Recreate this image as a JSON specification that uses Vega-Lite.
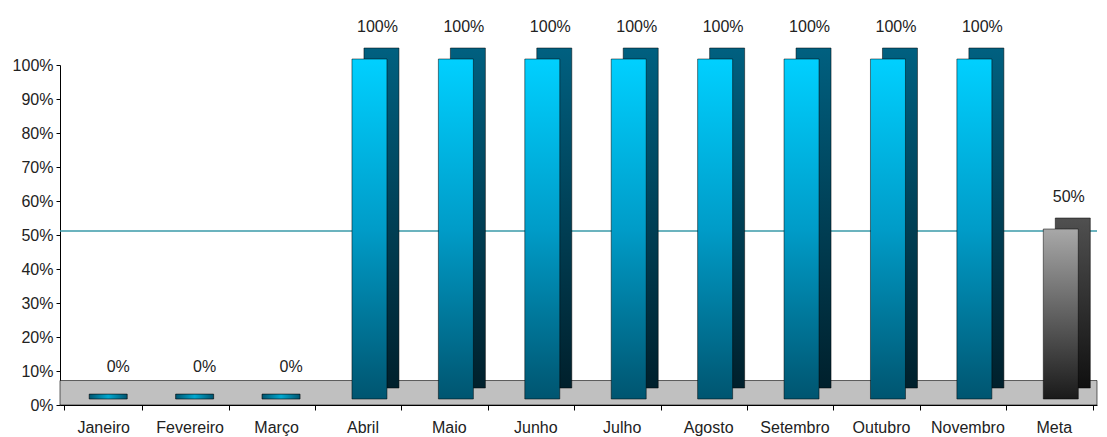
{
  "$schema": "https://vega.github.io/schema/vega-lite/v6.json",
  "autosize": "none",
  "width": 1037,
  "height": 340,
  "padding": {"left": 60, "top": 65, "right": 10, "bottom": 32},
  "background": "white",
  "config": {
    "view": {"stroke": null},
    "font": "Liberation Sans",
    "numberFormat": ".0%",
    "axis": {"grid": false, "labelFontSize": 16, "labelColor": "#222", "labelFont": "Liberation Sans", "domainColor": "#000", "tickColor": "#000"},
    "axisX": {"labelAngle": 0, "tickSize": 5, "tickBand": "extent", "labelPadding": 9},
    "axisY": {"tickCount": 10, "tickSize": 4, "labelPadding": 3}
  },
  "data": {"values": [
    {"mes": "Janeiro", "valor": 0},
    {"mes": "Fevereiro", "valor": 0},
    {"mes": "Março", "valor": 0},
    {"mes": "Abril", "valor": 1},
    {"mes": "Maio", "valor": 1},
    {"mes": "Junho", "valor": 1},
    {"mes": "Julho", "valor": 1},
    {"mes": "Agosto", "valor": 1},
    {"mes": "Setembro", "valor": 1},
    {"mes": "Outubro", "valor": 1},
    {"mes": "Novembro", "valor": 1},
    {"mes": "Meta", "valor": 0.5}
  ]},
  "layer": [
    {
      "data": {"values": [{}]},
      "mark": {"type": "rect", "color": "#C0C0C0", "stroke": "#000", "strokeWidth": 0.6},
      "encoding": {
        "y": {"datum": 0, "type": "quantitative", "title": null, "scale": {"domain": [0, 1]}},
        "y2": {"datum": 0.072}
      }
    },
    {
      "data": {"values": [{}]},
      "mark": {"type": "rule", "color": "#3A9AA8", "strokeWidth": 1.5, "yOffset": -4},
      "encoding": {"y": {"datum": 0.5, "type": "quantitative", "title": null}}
    },
    {
      "transform": [{"filter": "datum.valor == 0"}],
      "mark": {"type": "bar", "width": 38, "xOffset": 5, "yOffset": -6, "stroke": "#000", "strokeWidth": 0.6,
        "color": {"gradient": "linear", "x1": 0, "y1": 0, "x2": 1, "y2": 0,
          "stops": [{"offset": 0, "color": "#005570"}, {"offset": 0.5, "color": "#00A8D0"}, {"offset": 1, "color": "#005570"}]}},
      "encoding": {
        "x": {"field": "mes", "type": "nominal", "sort": null, "title": null,
          "scale": {"domain": ["Janeiro", "Fevereiro", "Março", "Abril", "Maio", "Junho", "Julho", "Agosto", "Setembro", "Outubro", "Novembro", "Meta"]}},
        "y": {"field": "valor", "type": "quantitative", "title": null},
        "y2": {"datum": 0.032}
      }
    },
    {
      "transform": [{"filter": "datum.mes !== 'Meta' && datum.valor > 0"}],
      "mark": {"type": "bar", "width": 35, "xOffset": 19, "yOffset": -17, "stroke": "#000", "strokeWidth": 0.5,
        "color": {"gradient": "linear", "x1": 0, "y1": 0, "x2": 0, "y2": 1,
          "stops": [{"offset": 0, "color": "#006080"}, {"offset": 1, "color": "#00202C"}]}},
      "encoding": {
        "x": {"field": "mes", "type": "nominal", "sort": null, "title": null},
        "y": {"field": "valor", "type": "quantitative", "title": null}
      }
    },
    {
      "transform": [{"filter": "datum.mes === 'Meta'"}],
      "mark": {"type": "bar", "width": 35, "xOffset": 19, "yOffset": -17, "stroke": "#000", "strokeWidth": 0.5,
        "color": {"gradient": "linear", "x1": 0, "y1": 0, "x2": 0, "y2": 1,
          "stops": [{"offset": 0, "color": "#505050"}, {"offset": 1, "color": "#101010"}]}},
      "encoding": {
        "x": {"field": "mes", "type": "nominal", "sort": null, "title": null},
        "y": {"field": "valor", "type": "quantitative", "title": null}
      }
    },
    {
      "transform": [{"filter": "datum.mes !== 'Meta' && datum.valor > 0"}],
      "mark": {"type": "bar", "width": 35, "xOffset": 7, "yOffset": -6, "stroke": "#000", "strokeWidth": 0.5,
        "color": {"gradient": "linear", "x1": 0, "y1": 0, "x2": 0, "y2": 1,
          "stops": [{"offset": 0, "color": "#00D0FF"}, {"offset": 0.5, "color": "#009CC8"}, {"offset": 1, "color": "#005570"}]}},
      "encoding": {
        "x": {"field": "mes", "type": "nominal", "sort": null, "title": null},
        "y": {"field": "valor", "type": "quantitative", "title": null}
      }
    },
    {
      "transform": [{"filter": "datum.mes === 'Meta'"}],
      "mark": {"type": "bar", "width": 35, "xOffset": 7, "yOffset": -6, "stroke": "#000", "strokeWidth": 0.5,
        "color": {"gradient": "linear", "x1": 0, "y1": 0, "x2": 0, "y2": 1,
          "stops": [{"offset": 0, "color": "#A8A8A8"}, {"offset": 1, "color": "#1A1A1A"}]}},
      "encoding": {
        "x": {"field": "mes", "type": "nominal", "sort": null, "title": null},
        "y": {"field": "valor", "type": "quantitative", "title": null}
      }
    },
    {
      "mark": {"type": "text", "fontSize": 16, "color": "#222", "baseline": "middle", "dy": -38, "dx": 15},
      "encoding": {
        "x": {"field": "mes", "type": "nominal", "sort": null, "title": null},
        "y": {"field": "valor", "type": "quantitative", "title": null},
        "text": {"field": "valor", "type": "quantitative", "format": ".0%"}
      }
    }
  ]
}
